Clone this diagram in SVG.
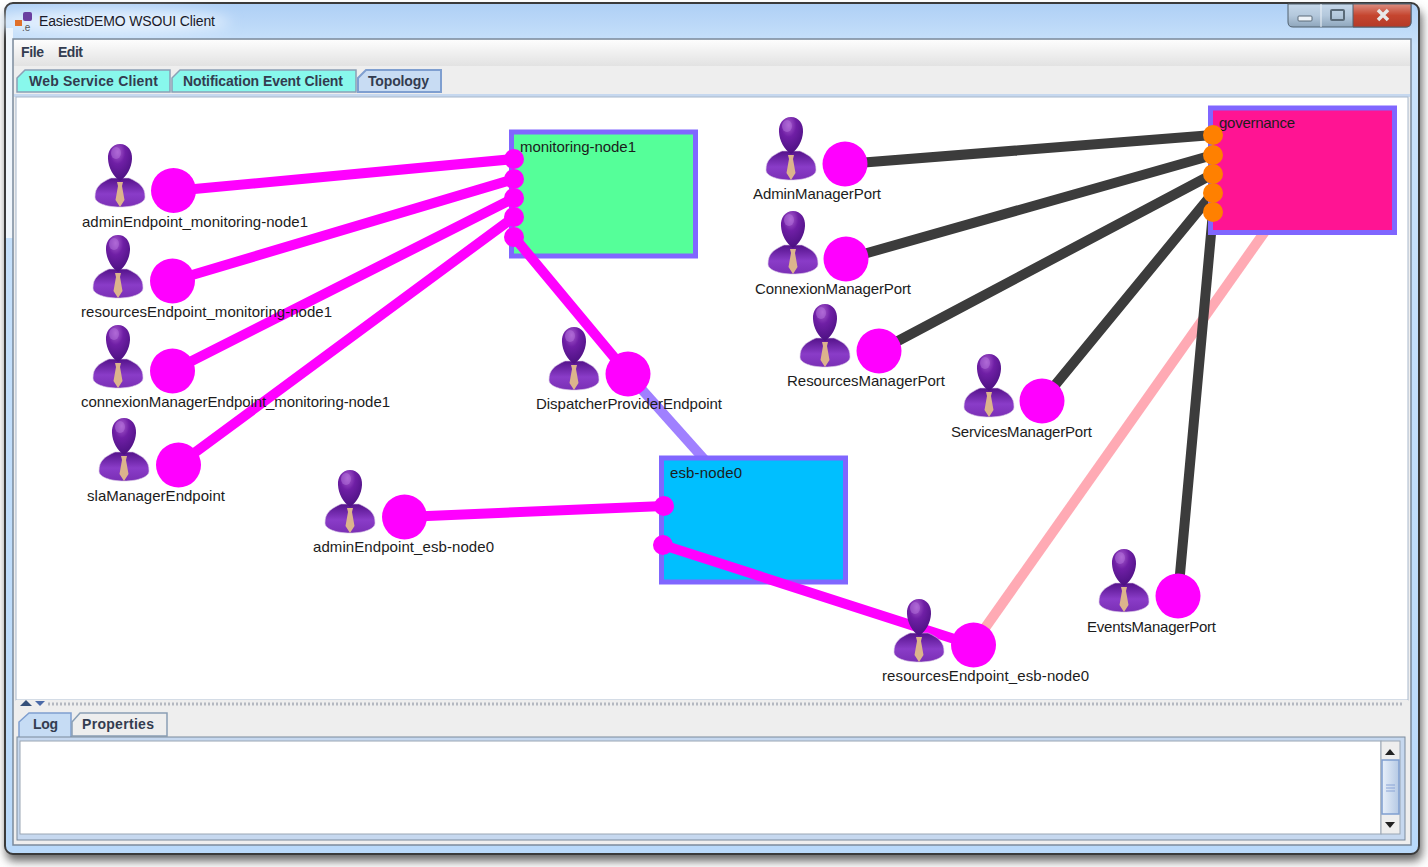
<svg xmlns="http://www.w3.org/2000/svg" width="1428" height="867" viewBox="0 0 1428 867">
<style>
text{font-family:"Liberation Sans",Arial,sans-serif}
.lbl{font-size:15px;fill:#1c1c1c}
.tab{font-size:14px;font-weight:bold;fill:#333c50}
.ep{fill:#ff00ff}
.port{fill:#ff00ff}
.oport{fill:#ff8000}
.node{stroke:#8066ff;stroke-width:5}
.m{stroke:#ff00ff;stroke-width:10;fill:none}
.d{stroke:#3c3c3c;stroke-width:10;fill:none}
</style>
<defs>
<linearGradient id="sky" x1="0" y1="0" x2="0" y2="1"><stop offset="0" stop-color="#aecff5"/><stop offset=".05" stop-color="#c9e2fb"/><stop offset="1" stop-color="#b9d9fa"/></linearGradient>
<linearGradient id="menu" x1="0" y1="0" x2="0" y2="1"><stop offset="0" stop-color="#fdfdfd"/><stop offset="1" stop-color="#e2e2e2"/></linearGradient>
<linearGradient id="btn" x1="0" y1="0" x2="0" y2="1"><stop offset="0" stop-color="#c6d8ea"/><stop offset=".5" stop-color="#b4c8dc"/><stop offset="1" stop-color="#8ea6bc"/></linearGradient>
<linearGradient id="close" x1="0" y1="0" x2="0" y2="1"><stop offset="0" stop-color="#dc8d80"/><stop offset=".5" stop-color="#c5452f"/><stop offset="1" stop-color="#b43a28"/></linearGradient>
<linearGradient id="thumb" x1="0" y1="0" x2="1" y2="0"><stop offset="0" stop-color="#e8f0fa"/><stop offset="1" stop-color="#b5c9e4"/></linearGradient>
<radialGradient id="head" cx=".4" cy=".22" r=".8"><stop offset="0" stop-color="#a95ccf"/><stop offset=".4" stop-color="#6f1fa5"/><stop offset="1" stop-color="#4a1080"/></radialGradient>
<linearGradient id="body" x1="0" y1="0" x2="0" y2="1"><stop offset="0" stop-color="#54128a"/><stop offset=".55" stop-color="#8a3cc8"/><stop offset="1" stop-color="#7a2fb5"/></linearGradient>
<filter id="blur" x="-5%" y="-5%" width="110%" height="110%"><feGaussianBlur stdDeviation="5"/></filter>
<filter id="glow" x="-20%" y="-100%" width="140%" height="300%"><feGaussianBlur stdDeviation="7"/></filter>
<symbol id="person" overflow="visible">
<path d="M-25 52 C-25 42 -20 38 -9 33 L9 33 C20 38 25 42 25 52 C25 58 14 62 0 62 C-14 62 -25 58 -25 52Z" fill="url(#body)" stroke="#d8c4e6" stroke-width=".6"/>
<path d="M0 -1 C8 -1 12.500 6 12 14 C11.500 23 7 31 0 36 C-7 31 -11.500 23 -12 14 C-12.500 6 -8 -1 0 -1Z" fill="url(#head)"/>
<ellipse cx="-4" cy="8" rx="5" ry="6" fill="#b97adf" opacity=".45"/>
<path d="M-3 37 L3 37 L2 41 L4.500 55 L0 62 L-4.500 55 L-2 41Z" fill="#dcb48c"/>
</symbol>
</defs>
<rect width="1428" height="867" fill="#ffffff"/>
<rect x="6" y="10" width="1416" height="851" rx="8" fill="#666" filter="url(#blur)"/>
<rect x="5" y="3" width="1414" height="851" rx="8" fill="url(#sky)" stroke="#3a3a3a" stroke-width="2"/>
<rect x="6" y="28" width="7" height="210" fill="#f0f6fc"/>
<ellipse cx="110" cy="22" rx="120" ry="11" fill="#e6f2fe" filter="url(#glow)"/>
<g id="titlebar">
<g id="appicon"><rect x="23" y="12" width="9" height="9" rx="2" fill="#6a3fa0"/><rect x="15" y="20" width="7" height="6" fill="#e0702a"/><text x="22" y="31" font-size="10" fill="#555">.e</text></g>
<text x="39" y="26" font-size="14" fill="#1a1a2a" textLength="176">EasiestDEMO WSOUI Client</text>
<path d="M1288 4 H1411 V22 Q1411 27 1406 27 H1293 Q1288 27 1288 22Z" fill="url(#btn)" stroke="#50606e"/>
<path d="M1353 4 H1411 V22 Q1411 27 1406 27 H1353Z" fill="url(#close)" stroke="#50606e"/>
<path d="M1321 4 V27" stroke="#f0f5fa"/>
<rect x="1298" y="16" width="14" height="5" rx="1" fill="#eef3f8" stroke="#5a6a78"/>
<rect x="1331" y="10" width="13" height="10" rx="1" fill="none" stroke="#5a6a78" stroke-width="2"/>
<path d="M1378 10 L1388 20 M1388 10 L1378 20" stroke="#e8e8e8" stroke-width="3.500"/>
</g>
<rect x="13" y="39" width="1398" height="806" fill="#eeeeee" stroke="#7b8a9c" stroke-width="1.500"/>
<rect x="14" y="40" width="1396" height="26" fill="url(#menu)"/>
<g id="menubar"><text x="21" y="57" class="tab" textLength="23">File</text><text x="58" y="57" class="tab" textLength="25">Edit</text></g>
<g id="tabs">
<path d="M17 92 V78 L25 70 H170 V92Z" fill="#88f8ec" stroke="#8a9fb5" stroke-width="1.500"/>
<path d="M172 92 V78 L180 70 H356 V92Z" fill="#88f8ec" stroke="#8a9fb5" stroke-width="1.500"/>
<path d="M358 92 V78 L366 70 H441 V92Z" fill="#c8dcf3" stroke="#7f9fd0" stroke-width="2"/>
<text x="29" y="86" class="tab" textLength="129">Web Service Client</text>
<text x="183" y="86" class="tab" textLength="160">Notification Event Client</text>
<text x="368" y="86" class="tab" textLength="61">Topology</text>
</g>
<rect x="14" y="94" width="1396" height="3" fill="#c6d8ef"/>
<rect x="16" y="97" width="1392" height="603" fill="#ffffff" stroke="#a8b8cc"/>
<g id="connectors-under">
<path d="M628 374 L720 477" stroke="#a080ff" stroke-width="10" fill="none"/>
<path d="M973 645 L1290 196" stroke="#ffaab4" stroke-width="10" fill="none"/>
<path class="d" d="M845 164 L1213 135 M846 259 L1213 155 M879 351 L1213 174 M1042 401 L1213 193 M1178 596 L1213 212"/>
</g>
<g id="node-monitoring-node1"><rect class="node" x="511.500" y="132" width="184" height="124" fill="#55ff99"/><text x="520" y="152" class="lbl" textLength="116">monitoring-node1</text></g>
<g id="node-esb-node0"><rect class="node" x="661.500" y="458" width="184" height="124" fill="#00bfff"/><text x="670" y="478" class="lbl" textLength="72">esb-node0</text></g>
<g id="node-governance"><rect class="node" x="1210.500" y="108" width="184" height="124.500" fill="#ff1493"/><text x="1219" y="128" class="lbl" textLength="76">governance</text></g>
<g id="connectors-over">
<path class="m" d="M173 191 L514 159 M172 281 L514 179 M172 371 L514 198 M178 465 L514 217 M514 237 L628 374 M404 517 L664 506 M663 545 L973 645"/>
</g>
<g id="ports-monitoring-node1" class="port"><circle cx="514" cy="159" r="10"/><circle cx="514" cy="179" r="10"/><circle cx="514" cy="198" r="10"/><circle cx="514" cy="217" r="10"/><circle cx="514" cy="237" r="10"/></g>
<g id="ports-esb-node0" class="port"><circle cx="664" cy="506" r="10"/><circle cx="663" cy="545" r="10"/></g>
<g id="ports-governance" class="oport"><circle cx="1213" cy="135" r="10"/><circle cx="1213" cy="155" r="10"/><circle cx="1213" cy="174" r="10"/><circle cx="1213" cy="193" r="10"/><circle cx="1213" cy="212" r="10"/></g>
<g id="ep-adminEndpoint_monitoring-node1"><use href="#person" x="120" y="145"/><circle class="ep" cx="173.500" cy="190.500" r="22.500"/><text x="82" y="227" class="lbl" textLength="226">adminEndpoint_monitoring-node1</text></g>
<g id="ep-resourcesEndpoint_monitoring-node1"><use href="#person" x="118" y="236"/><circle class="ep" cx="172.500" cy="281" r="22.500"/><text x="81" y="317" class="lbl" textLength="251">resourcesEndpoint_monitoring-node1</text></g>
<g id="ep-connexionManagerEndpoint_monitoring-node1"><use href="#person" x="118" y="326"/><circle class="ep" cx="172.500" cy="371" r="22.500"/><text x="81" y="407" class="lbl" textLength="309">connexionManagerEndpoint_monitoring-node1</text></g>
<g id="ep-slaManagerEndpoint"><use href="#person" x="124" y="419"/><circle class="ep" cx="178.500" cy="465" r="22.500"/><text x="87" y="501" class="lbl" textLength="138">slaManagerEndpoint</text></g>
<g id="ep-adminEndpoint_esb-node0"><use href="#person" x="350" y="471"/><circle class="ep" cx="404.500" cy="517" r="22.500"/><text x="313" y="552" class="lbl" textLength="181">adminEndpoint_esb-node0</text></g>
<g id="ep-DispatcherProviderEndpoint"><use href="#person" x="574" y="328"/><circle class="ep" cx="628" cy="374" r="22.500"/><text x="536" y="409" class="lbl" textLength="186">DispatcherProviderEndpoint</text></g>
<g id="ep-AdminManagerPort"><use href="#person" x="791" y="118"/><circle class="ep" cx="845" cy="164" r="22.500"/><text x="753" y="199" class="lbl" textLength="128">AdminManagerPort</text></g>
<g id="ep-ConnexionManagerPort"><use href="#person" x="793" y="212"/><circle class="ep" cx="846" cy="259" r="22.500"/><text x="755" y="294" class="lbl" textLength="156">ConnexionManagerPort</text></g>
<g id="ep-ResourcesManagerPort"><use href="#person" x="825" y="305"/><circle class="ep" cx="879" cy="351" r="22.500"/><text x="787" y="386" class="lbl" textLength="158">ResourcesManagerPort</text></g>
<g id="ep-ServicesManagerPort"><use href="#person" x="989" y="355"/><circle class="ep" cx="1042" cy="401" r="22.500"/><text x="951" y="437" class="lbl" textLength="141">ServicesManagerPort</text></g>
<g id="ep-EventsManagerPort"><use href="#person" x="1124" y="550"/><circle class="ep" cx="1178" cy="596" r="22.500"/><text x="1087" y="632" class="lbl" textLength="129">EventsManagerPort</text></g>
<g id="ep-resourcesEndpoint_esb-node0"><use href="#person" x="919" y="600"/><circle class="ep" cx="973.500" cy="645" r="22.500"/><text x="882" y="681" class="lbl" textLength="207">resourcesEndpoint_esb-node0</text></g>
<g id="splitter">
<rect x="16" y="700" width="1392" height="9" fill="#eeeeee"/>
<path d="M20 706 L26 700 L32 706Z" fill="#35507a"/><path d="M35 701 H45 L40 706Z" fill="#4a6aa8"/>
<path d="M48 704 H1404" stroke="#b4b8c0" stroke-width="3" stroke-dasharray="2 2"/>
</g>
<g id="bottomtabs">
<path d="M19 738 V722 L29 713 H71 V738Z" fill="#c6dcf4" stroke="#7f9fd0" stroke-width="1.500"/>
<path d="M72 736 V722 L80 713 H167 V736Z" fill="#eeeeee" stroke="#8a9fb5" stroke-width="1.500"/>
<text x="33" y="729" class="tab" textLength="25">Log</text><text x="82" y="729" class="tab" textLength="72">Properties</text>
</g>
<rect x="17" y="737" width="1388" height="103" fill="#c6d8ef" stroke="#7b8a9c"/>
<rect x="20" y="741" width="1361" height="93" fill="#ffffff" stroke="#9aa6b4"/>
<g id="scrollbar">
<rect x="1381" y="741" width="19" height="93" fill="#eeeeee" stroke="#9aa6b4"/>
<path d="M1385 755 L1390 749 L1395 755Z" fill="#222"/>
<rect x="1382" y="760" width="17" height="54" fill="url(#thumb)" stroke="#7f9fd0" stroke-width="1.500"/>
<path d="M1386 785 H1395 M1386 788 H1395 M1386 791 H1395" stroke="#8aa4d6"/>
<path d="M1385 822 H1395 L1390 828Z" fill="#222"/>
</g>
</svg>
